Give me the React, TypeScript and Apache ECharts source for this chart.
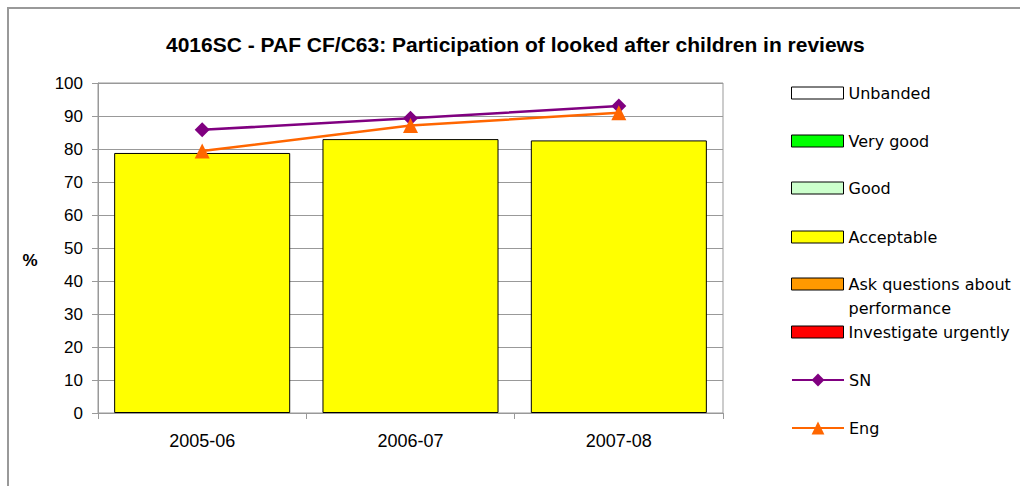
import React, { useEffect, useRef } from "react";
import * as echarts from "echarts";

const categories = ["2005-06", "2006-07", "2007-08"];
const acceptable = [78.8, 83.0, 82.6];
const sn = [85.8, 89.3, 93.0];
const eng = [79.4, 87.1, 91.0];
const yTicks = { min: 0, max: 100, interval: 10 };
const bandNames = ["Unbanded", "Very good", "Good", "Acceptable", "Ask questions about performance", "Investigate urgently"];
const bandColors = ["#FFFFFF", "#00FF00", "#CCFFCC", "#FFFF00", "#FF9900", "#FF0000"];
const legendYs = [93, 141, 188, 237, 284, 332, 380, 428];

export default function App() {
  const ref = useRef<HTMLDivElement>(null);
  useEffect(() => {
    const chart = echarts.init(ref.current!, null, { renderer: "svg" });
    const barSeries = bandNames.map((name, i) => ({
      name,
      type: "bar",
      stack: "band",
      barCategoryGap: "15.5%",
      data: name === "Acceptable" ? acceptable : [],
      itemStyle: { color: bandColors[i], borderColor: "#000", borderWidth: 1 },
    }));
    const legendFont = { fontFamily: "DejaVu Sans", fontSize: 16, color: "#000", lineHeight: 16 };
    const legends: any[] = bandNames.map((name, i) => {
      const multi = name === "Ask questions about performance";
      return {
        data: [{ name, icon: "rect" }],
        left: 791,
        top: multi ? legendYs[i] - 36 : legendYs[i] - 8,
        itemWidth: 52,
        itemHeight: 12,
        itemGap: 0,
        padding: 0,
        selectedMode: false,
        itemStyle: { borderColor: "#000", borderWidth: 1 },
        formatter: multi ? () => "\nAsk questions about\nperformance" : undefined,
        textStyle: multi ? { ...legendFont, lineHeight: 24 } : legendFont,
      };
    });
    legends.push(
      ...["SN", "Eng"].map((name, i) => ({
        data: [name],
        left: 791,
        top: legendYs[6 + i] - 8,
        itemWidth: 52,
        itemHeight: 16,
        padding: 0,
        selectedMode: false,
        textStyle: legendFont,
      }))
    );
    chart.setOption({
      animation: false,
      backgroundColor: "#fff",
      title: {
        text: "4016SC - PAF CF/C63: Participation of looked after children in reviews",
        left: 166,
        top: 34,
        padding: 0,
        textStyle: { fontFamily: "Liberation Sans", fontSize: 21, fontWeight: "bold", color: "#000" },
      },
      graphic: [
        {
          type: "rect",
          shape: { x: 8, y: 8, width: 1040, height: 500 },
          style: { fill: "none", stroke: "#999", lineWidth: 2 },
          silent: true,
        },
        {
          type: "text",
          x: 30,
          y: 260,
          style: {
            text: "%",
            fontFamily: "Liberation Sans",
            fontSize: 17,
            fontWeight: "bold",
            fill: "#000",
            align: "center",
            verticalAlign: "middle",
          },
          silent: true,
        },
      ],
      legend: legends,
      grid: { left: 98, right: 297, top: 83, bottom: 73, show: true, borderColor: "#999", borderWidth: 1 },
      xAxis: {
        type: "category",
        data: categories,
        axisLine: { lineStyle: { color: "#999" } },
        axisTick: { show: true, length: 6, lineStyle: { color: "#999" } },
        axisLabel: { color: "#000", fontFamily: "Liberation Sans", fontSize: 18, margin: 19 },
      },
      yAxis: {
        type: "value",
        ...yTicks,
        axisLine: { show: true, lineStyle: { color: "#999" } },
        axisTick: { show: true, length: 6, lineStyle: { color: "#999" } },
        axisLabel: { color: "#000", fontFamily: "Liberation Sans", fontSize: 17, margin: 15 },
        splitLine: { lineStyle: { color: "#999", width: 1 } },
      },
      series: [
        ...barSeries,
        {
          name: "SN",
          type: "line",
          data: sn,
          symbol: "diamond",
          symbolSize: 15,
          lineStyle: { color: "#800080", width: 2.5 },
          itemStyle: { color: "#800080" },
        },
        {
          name: "Eng",
          type: "line",
          data: eng,
          symbol: "triangle",
          symbolSize: 15,
          lineStyle: { color: "#FF6600", width: 2.5 },
          itemStyle: { color: "#FF6600" },
        },
      ],
    });
    return () => chart.dispose();
  }, []);
  return (
    <div
      ref={ref}
      style={{ position: "absolute", left: 0, top: 0, width: 1020, height: 486 }}
    />
  );
}
